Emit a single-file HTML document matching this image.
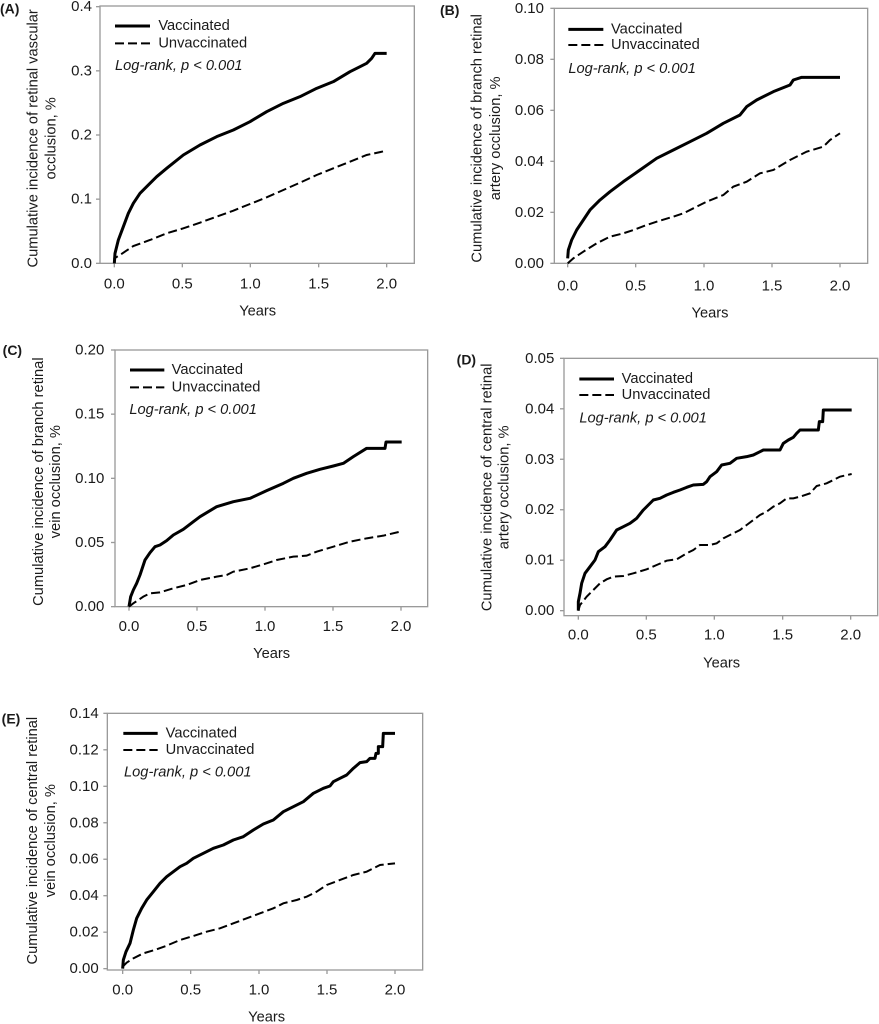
<!DOCTYPE html>
<html><head><meta charset="utf-8"><style>
html,body{margin:0;padding:0;background:#fff;width:879px;height:1024px;overflow:hidden}
svg{display:block}
text{font-family:"Liberation Sans",Arial,sans-serif;fill:#1a1a1a}
.ax{fill:none;stroke:#9a9a9a;stroke-width:4}
.tk{stroke:#9a9a9a;stroke-width:4}
.tl{font-size:45px}
.lg{font-size:44px}
.it{font-size:44px;font-style:italic}
.pl{font-size:42px;font-weight:bold}
.vs{fill:none;stroke:#000;stroke-width:9;stroke-linejoin:round}
.us{fill:none;stroke:#000;stroke-width:6;stroke-dasharray:27 12}
</style></head><body>
<svg width="879" height="1024" viewBox="0 0 879 1024" xmlns="http://www.w3.org/2000/svg">

<!-- Panel A -->
<g transform="translate(0,0) scale(0.33333)">
<text class="pl" x="0" y="25" dominant-baseline="central">(A)</text>
<rect class="ax" x="300" y="18" width="943" height="772"/>
<g class="tk"><line x1="288" x2="300" y1="790" y2="790"/><line x1="288" x2="300" y1="597.5" y2="597.5"/><line x1="288" x2="300" y1="405" y2="405"/><line x1="288" x2="300" y1="212.5" y2="212.5"/><line x1="288" x2="300" y1="20" y2="20"/>
<line x1="343" x2="343" y1="790" y2="802"/><line x1="547" x2="547" y1="790" y2="802"/><line x1="751" x2="751" y1="790" y2="802"/><line x1="956" x2="956" y1="790" y2="802"/><line x1="1160" x2="1160" y1="790" y2="802"/></g>
<g class="tl" text-anchor="end" dominant-baseline="central"><text x="276" y="790">0.0</text><text x="276" y="597.5">0.1</text><text x="276" y="405">0.2</text><text x="276" y="212.5">0.3</text><text x="276" y="20">0.4</text></g>
<g class="tl" text-anchor="middle" dominant-baseline="central"><text x="343" y="852">0.0</text><text x="547" y="852">0.5</text><text x="751" y="852">1.0</text><text x="956" y="852">1.5</text><text x="1160" y="852">2.0</text></g>
<text class="lg" x="773" y="935" text-anchor="middle" dominant-baseline="central">Years</text>
<text class="lg" transform="translate(100,415) rotate(-90)" text-anchor="middle" dominant-baseline="central">Cumulative incidence of retinal vascular</text>
<text class="lg" transform="translate(155,415) rotate(-90)" text-anchor="middle" dominant-baseline="central">occlusion, %</text>
<line x1="345" x2="450" y1="78" y2="78" stroke="#000" stroke-width="9"/>
<text class="lg" x="475" y="78" dominant-baseline="central">Vaccinated</text>
<line x1="345" x2="450" y1="130" y2="130" class="us"/>
<text class="lg" x="475" y="130" dominant-baseline="central">Unvaccinated</text>
<text class="it" x="345" y="198" dominant-baseline="central">Log-rank, p &lt; 0.001</text>
<polyline class="vs" points="343,790 345,760 355,720 370,680 385,640 400,610 420,580 450,550 470,530 500,505 550,465 600,435 650,410 700,390 750,365 800,335 850,310 900,290 950,265 1000,245 1050,215 1080,200 1100,190 1115,175 1125,160 1160,160"/>
<polyline class="us" points="343,790 343,775 360,765 400,738 450,720 500,700 550,685 600,668 650,650 700,632 750,612 800,592 850,570 900,548 950,525 1000,505 1050,485 1100,465 1160,452"/>
</g>

<!-- Panel B -->
<g transform="translate(440,0) scale(0.33333)">
<text class="pl" x="0" y="30" dominant-baseline="central">(B)</text>
<rect class="ax" x="343" y="25" width="940" height="765"/>
<g class="tk"><line x1="331" x2="343" y1="790" y2="790"/><line x1="331" x2="343" y1="637" y2="637"/><line x1="331" x2="343" y1="484" y2="484"/><line x1="331" x2="343" y1="331" y2="331"/><line x1="331" x2="343" y1="178" y2="178"/><line x1="331" x2="343" y1="25" y2="25"/>
<line x1="383" x2="383" y1="790" y2="802"/><line x1="587" x2="587" y1="790" y2="802"/><line x1="792" x2="792" y1="790" y2="802"/><line x1="996" x2="996" y1="790" y2="802"/><line x1="1200" x2="1200" y1="790" y2="802"/></g>
<g class="tl" text-anchor="end" dominant-baseline="central"><text x="312" y="790">0.00</text><text x="312" y="637">0.02</text><text x="312" y="484">0.04</text><text x="312" y="331">0.06</text><text x="312" y="178">0.08</text><text x="312" y="25">0.10</text></g>
<g class="tl" text-anchor="middle" dominant-baseline="central"><text x="383" y="858">0.0</text><text x="587" y="858">0.5</text><text x="792" y="858">1.0</text><text x="996" y="858">1.5</text><text x="1200" y="858">2.0</text></g>
<text class="lg" x="810" y="940" text-anchor="middle" dominant-baseline="central">Years</text>
<text class="lg" transform="translate(113,415) rotate(-90)" text-anchor="middle" dominant-baseline="central">Cumulative incidence of branch retinal</text>
<text class="lg" transform="translate(168,415) rotate(-90)" text-anchor="middle" dominant-baseline="central">artery occlusion, %</text>
<line x1="385" x2="490" y1="88" y2="88" stroke="#000" stroke-width="9"/>
<text class="lg" x="513" y="88" dominant-baseline="central">Vaccinated</text>
<line x1="385" x2="490" y1="135" y2="135" class="us"/>
<text class="lg" x="513" y="135" dominant-baseline="central">Unvaccinated</text>
<text class="it" x="385" y="207" dominant-baseline="central">Log-rank, p &lt; 0.001</text>
<polyline class="vs" points="383,775 385,750 395,720 410,690 430,660 450,630 480,600 510,575 550,545 600,510 650,475 700,450 750,425 800,400 850,370 900,345 920,320 950,300 1000,275 1050,255 1060,240 1085,232 1200,232"/>
<polyline class="us" points="383,790 400,775 430,755 470,730 510,710 550,700 580,690 620,675 650,665 700,650 730,640 770,620 800,605 850,585 880,560 920,545 960,520 1000,510 1050,480 1100,455 1150,440 1170,420 1200,400"/>
</g>

<!-- Panel C -->
<g transform="translate(0,330) scale(0.33333)">
<text class="pl" x="8" y="60" dominant-baseline="central">(C)</text>
<rect class="ax" x="345" y="60" width="938" height="770"/>
<g class="tk"><line x1="333" x2="345" y1="830" y2="830"/><line x1="333" x2="345" y1="637.5" y2="637.5"/><line x1="333" x2="345" y1="445" y2="445"/><line x1="333" x2="345" y1="252.5" y2="252.5"/><line x1="333" x2="345" y1="60" y2="60"/>
<line x1="387" x2="387" y1="830" y2="842"/><line x1="591" x2="591" y1="830" y2="842"/><line x1="795" x2="795" y1="830" y2="842"/><line x1="999" x2="999" y1="830" y2="842"/><line x1="1203" x2="1203" y1="830" y2="842"/></g>
<g class="tl" text-anchor="end" dominant-baseline="central"><text x="313" y="830">0.00</text><text x="313" y="637.5">0.05</text><text x="313" y="445">0.10</text><text x="313" y="252.5">0.15</text><text x="313" y="60">0.20</text></g>
<g class="tl" text-anchor="middle" dominant-baseline="central"><text x="387" y="890">0.0</text><text x="591" y="890">0.5</text><text x="795" y="890">1.0</text><text x="999" y="890">1.5</text><text x="1203" y="890">2.0</text></g>
<text class="lg" x="815" y="972" text-anchor="middle" dominant-baseline="central">Years</text>
<text class="lg" transform="translate(117,455) rotate(-90)" text-anchor="middle" dominant-baseline="central">Cumulative incidence of branch retinal</text>
<text class="lg" transform="translate(168,455) rotate(-90)" text-anchor="middle" dominant-baseline="central">vein occlusion, %</text>
<line x1="390" x2="493" y1="120" y2="120" stroke="#000" stroke-width="9"/>
<text class="lg" x="515" y="120" dominant-baseline="central">Vaccinated</text>
<line x1="390" x2="493" y1="172" y2="172" class="us"/>
<text class="lg" x="515" y="172" dominant-baseline="central">Unvaccinated</text>
<text class="it" x="388" y="240" dominant-baseline="central">Log-rank, p &lt; 0.001</text>
<polyline class="vs" points="387,830 392,800 400,780 410,760 420,735 435,690 450,668 465,650 480,645 500,632 520,615 550,598 580,575 600,560 650,530 700,515 750,505 800,482 850,460 880,445 920,430 960,418 1000,408 1030,400 1060,380 1100,355 1155,355 1158,336 1205,336"/>
<polyline class="us" points="387,830 400,820 430,800 450,790 480,787 520,775 560,765 600,750 650,740 680,735 700,725 750,715 800,700 830,690 880,680 920,677 950,665 1000,650 1050,635 1100,625 1150,617 1200,605"/>
</g>

<!-- Panel D -->
<g transform="translate(440,330) scale(0.33333)">
<text class="pl" x="50" y="88" dominant-baseline="central">(D)</text>
<rect class="ax" x="372" y="85" width="941" height="772"/>
<g class="tk"><line x1="360" x2="372" y1="842" y2="842"/><line x1="360" x2="372" y1="690.6" y2="690.6"/><line x1="360" x2="372" y1="539.2" y2="539.2"/><line x1="360" x2="372" y1="387.8" y2="387.8"/><line x1="360" x2="372" y1="236.4" y2="236.4"/><line x1="360" x2="372" y1="85" y2="85"/>
<line x1="415" x2="415" y1="857" y2="869"/><line x1="619" x2="619" y1="857" y2="869"/><line x1="823" x2="823" y1="857" y2="869"/><line x1="1028" x2="1028" y1="857" y2="869"/><line x1="1232" x2="1232" y1="857" y2="869"/></g>
<g class="tl" text-anchor="end" dominant-baseline="central"><text x="343" y="842">0.00</text><text x="343" y="690.6">0.01</text><text x="343" y="539.2">0.02</text><text x="343" y="387.8">0.03</text><text x="343" y="236.4">0.04</text><text x="343" y="85">0.05</text></g>
<g class="tl" text-anchor="middle" dominant-baseline="central"><text x="415" y="915">0.0</text><text x="619" y="915">0.5</text><text x="823" y="915">1.0</text><text x="1028" y="915">1.5</text><text x="1232" y="915">2.0</text></g>
<text class="lg" x="845" y="1000" text-anchor="middle" dominant-baseline="central">Years</text>
<text class="lg" transform="translate(143,472) rotate(-90)" text-anchor="middle" dominant-baseline="central">Cumulative incidence of central retinal</text>
<text class="lg" transform="translate(193,472) rotate(-90)" text-anchor="middle" dominant-baseline="central">artery occlusion, %</text>
<line x1="418" x2="522" y1="147" y2="147" stroke="#000" stroke-width="9"/>
<text class="lg" x="545" y="147" dominant-baseline="central">Vaccinated</text>
<line x1="418" x2="522" y1="195" y2="195" class="us"/>
<text class="lg" x="545" y="195" dominant-baseline="central">Unvaccinated</text>
<text class="it" x="418" y="265" dominant-baseline="central">Log-rank, p &lt; 0.001</text>
<polyline class="vs" points="415,842 415,815 420,790 425,760 435,730 450,710 465,690 475,665 495,650 510,630 530,600 550,590 570,580 590,565 610,540 625,525 640,510 660,505 680,495 700,487 720,480 740,472 760,465 790,463 800,455 810,440 830,425 845,405 870,400 890,385 920,380 940,375 960,365 970,360 1020,360 1030,340 1045,330 1060,322 1070,310 1080,300 1135,300 1138,275 1148,275 1150,240 1235,240"/>
<polyline class="us" points="415,842 420,825 440,800 460,780 480,760 500,748 520,740 550,738 580,730 620,718 650,705 680,692 710,688 740,670 760,660 780,645 810,645 830,640 850,625 880,610 900,600 920,585 940,570 960,555 980,545 1000,530 1020,520 1040,505 1060,505 1080,500 1110,490 1130,468 1160,460 1200,440 1235,432"/>
</g>

<!-- Panel E -->
<g transform="translate(0,680) scale(0.33333)">
<text class="pl" x="5" y="115" dominant-baseline="central">(E)</text>
<rect class="ax" x="322" y="100" width="946" height="770"/>
<g class="tk"><line x1="310" x2="322" y1="866" y2="866"/><line x1="310" x2="322" y1="756.6" y2="756.6"/><line x1="310" x2="322" y1="647.1" y2="647.1"/><line x1="310" x2="322" y1="537.7" y2="537.7"/><line x1="310" x2="322" y1="428.3" y2="428.3"/><line x1="310" x2="322" y1="318.9" y2="318.9"/><line x1="310" x2="322" y1="209.4" y2="209.4"/><line x1="310" x2="322" y1="100" y2="100"/>
<line x1="368" x2="368" y1="870" y2="882"/><line x1="572" x2="572" y1="870" y2="882"/><line x1="777" x2="777" y1="870" y2="882"/><line x1="981" x2="981" y1="870" y2="882"/><line x1="1185" x2="1185" y1="870" y2="882"/></g>
<g class="tl" text-anchor="end" dominant-baseline="central"><text x="296" y="866">0.00</text><text x="296" y="756.6">0.02</text><text x="296" y="647.1">0.04</text><text x="296" y="537.7">0.06</text><text x="296" y="428.3">0.08</text><text x="296" y="318.9">0.10</text><text x="296" y="209.4">0.12</text><text x="296" y="100">0.14</text></g>
<g class="tl" text-anchor="middle" dominant-baseline="central"><text x="368" y="930">0.0</text><text x="572" y="930">0.5</text><text x="777" y="930">1.0</text><text x="981" y="930">1.5</text><text x="1185" y="930">2.0</text></g>
<text class="lg" x="800" y="1013" text-anchor="middle" dominant-baseline="central">Years</text>
<text class="lg" transform="translate(99,482) rotate(-90)" text-anchor="middle" dominant-baseline="central">Cumulative incidence of central retinal</text>
<text class="lg" transform="translate(153,482) rotate(-90)" text-anchor="middle" dominant-baseline="central">vein occlusion, %</text>
<line x1="370" x2="473" y1="160" y2="160" stroke="#000" stroke-width="9"/>
<text class="lg" x="497" y="160" dominant-baseline="central">Vaccinated</text>
<line x1="370" x2="473" y1="210" y2="210" class="us"/>
<text class="lg" x="497" y="210" dominant-baseline="central">Unvaccinated</text>
<text class="it" x="372" y="278" dominant-baseline="central">Log-rank, p &lt; 0.001</text>
<polyline class="vs" points="368,866 370,840 378,815 390,790 400,750 410,715 425,685 440,660 460,635 480,610 500,590 520,575 540,560 560,550 580,535 610,520 640,505 670,495 700,480 730,470 760,450 790,432 820,420 850,395 880,380 910,365 940,340 970,325 990,318 1000,305 1020,295 1040,285 1060,265 1080,248 1100,245 1110,235 1125,235 1128,220 1135,220 1135,200 1148,200 1150,160 1185,160"/>
<polyline class="us" points="368,860 380,848 400,835 430,820 470,808 500,797 540,780 580,768 620,755 660,745 700,730 740,715 780,700 820,685 850,670 890,660 920,650 950,635 980,615 1020,600 1060,585 1100,575 1140,555 1185,550"/>
</g>

</svg>
</body></html>
